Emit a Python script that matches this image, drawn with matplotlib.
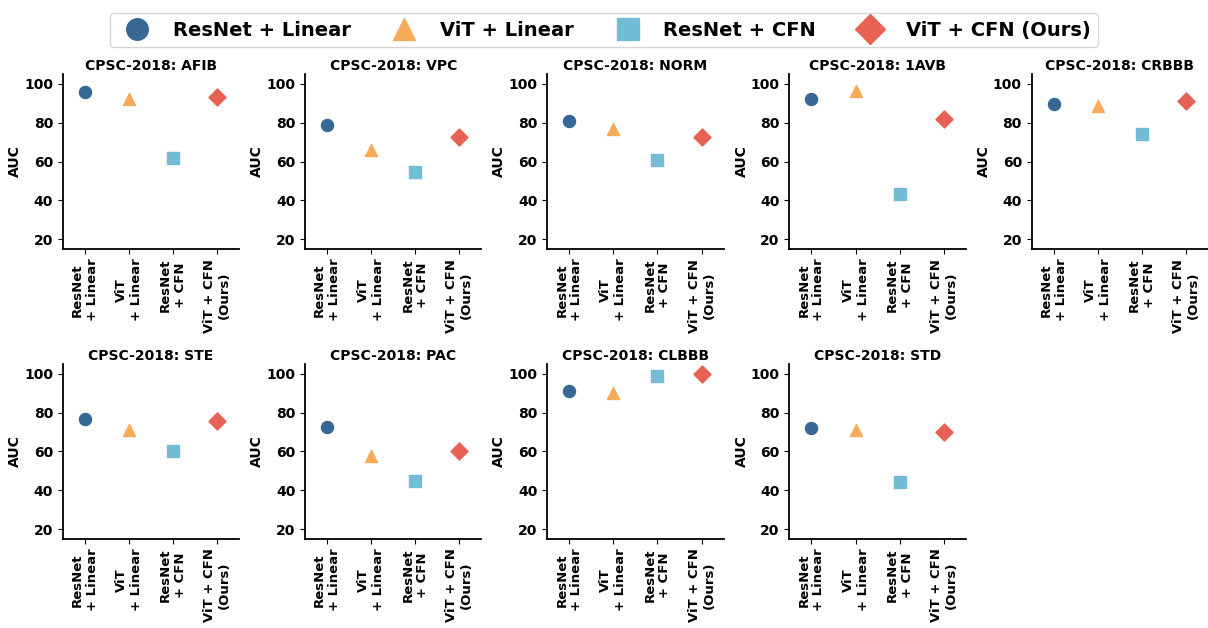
import matplotlib.pyplot as plt
from matplotlib.lines import Line2D

plt.rcParams['font.family'] = 'DejaVu Sans'
plt.rcParams['font.weight'] = 'bold'

methods = ['ResNet + Linear', 'ViT + Linear', 'ResNet + CFN', 'ViT + CFN (Ours)']
tick_labels = ['ResNet\n+ Linear', 'ViT\n+ Linear', 'ResNet\n+ CFN', 'ViT + CFN\n(Ours)']
markers = ['o', '^', 's', 'D']
colors = ['#376795', '#F7AA58', '#72BCD5', '#E76254']

classes = ['AFIB', 'VPC', 'NORM', '1AVB', 'CRBBB', 'STE', 'PAC', 'CLBBB', 'STD']

# AUC per class, order: ResNet+Linear, ViT+Linear, ResNet+CFN, ViT+CFN
afib = [95.9, 92.4, 61.7, 93.4]
vpc = [78.7, 66.1, 54.5, 72.6]
norm = [81.0, 77.0, 60.8, 72.4]
avb1 = [92.4, 96.3, 43.5, 82.0]
crbbb = [89.8, 88.8, 74.3, 91.4]
ste = [76.8, 70.9, 60.1, 75.6]
pac = [72.3, 57.6, 44.8, 60.0]
clbbb = [91.0, 90.1, 99.0, 99.8]
std = [72.1, 70.9, 44.1, 70.2]

auc = [afib, vpc, norm, avb1, crbbb, ste, pac, clbbb, std]

fig, axes = plt.subplots(2, 5, figsize=(12.08, 6.28), dpi=100)
fig.subplots_adjust(left=0.052, right=1.0, top=0.882, bottom=0.142,
                    wspace=0.373, hspace=0.657)

for i, ax in enumerate(axes.flat):
    if i >= len(classes):
        ax.remove()
        continue
    for j in range(4):
        ax.scatter(j, auc[i][j], marker=markers[j], color=colors[j], s=75,
                   zorder=3)
    ax.set_xlim(-0.5, 3.5)
    ax.set_ylim(15, 105)
    ax.set_yticks([20, 40, 60, 80, 100])
    ax.set_xticks(range(4))
    ax.set_xticklabels(tick_labels, rotation=90, fontsize=9.5, fontweight='bold')
    ax.tick_params(axis='y', labelsize=10)
    ax.set_ylabel('AUC', fontsize=10, fontweight='bold', labelpad=1.5)
    ax.set_title('CPSC-2018: ' + classes[i], fontsize=10, fontweight='bold',
                 pad=3)
    ax.spines['top'].set_visible(False)
    ax.spines['right'].set_visible(False)
    ax.spines['left'].set_linewidth(1.3)
    ax.spines['bottom'].set_linewidth(1.3)

handles = [Line2D([], [], linestyle='none', marker=markers[j], color=colors[j],
                  markersize=15.5)
           for j in range(4)]
fig.legend(handles, methods, loc='upper center', bbox_to_anchor=(0.5, 0.995),
           ncol=4, prop={'size': 14, 'weight': 'bold'}, handletextpad=0.85,
           columnspacing=1.75)

fig.savefig('out.png', dpi=100)
